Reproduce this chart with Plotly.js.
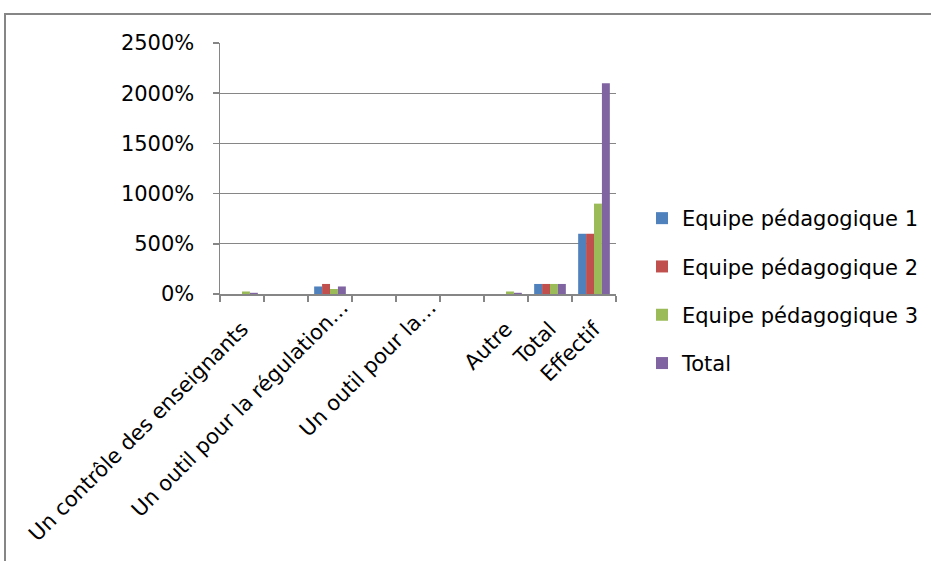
<!DOCTYPE html>
<html>
<head>
<meta charset="utf-8">
<script src="https://cdn.plot.ly/plotly-3.0.1.min.js"></script>
<style>html,body{margin:0;padding:0;background:#fff;}#chart{width:931px;height:561px;}</style>
</head>
<body>
<div id="chart"></div>
<script>
// Category labels (blank entries are unlabeled categories in the original chart)
var categories = ["Un contrôle des enseignants", "", "Un outil pour la régulation…", "", "Un outil pour la…", "", "Autre", "Total", "Effectif"];
var positions = [1, 2, 3, 4, 5, 6, 7, 8, 9];
// labels that the original draws truncated (with "…") sit slightly offset
var truncated = [false, false, true, false, true, false, false, false, false];

// Series values in percent
var seriesNames = ["Equipe pédagogique 1", "Equipe pédagogique 2", "Equipe pédagogique 3", "Total"];
var equipe1 = [0, 0, 75, 0, 0, 0, 0, 100, 600];
var equipe2 = [0, 0, 100, 0, 0, 0, 0, 100, 600];
var equipe3 = [25, 0, 50, 0, 0, 0, 25, 100, 900];
var total   = [12, 0, 75, 0, 0, 0, 12, 100, 2100];

var yTicks = [0, 500, 1000, 1500, 2000, 2500];
var yTickLabels = ["0%", "500%", "1000%", "1500%", "2000%", "2500%"];

var colors = ["#4F81BD", "#C0504D", "#9BBB59", "#8064A2"];
var values = [equipe1, equipe2, equipe3, total];

var FONT = "DejaVu Sans, sans-serif";
var FS = 21;
var GRAY = "#868686";

var traces = values.map(function (v, i) {
  return {
    type: "bar",
    name: seriesNames[i],
    x: positions,
    y: v,
    legendgroup: "g" + i,
    marker: {color: colors[i], line: {width: 0}},
    hoverinfo: "name+y"
  };
});

var L = 220, R = 616, T = 43, B = 294, W = 931, H = 561;
var pw = R - L, ph = B - T;
function px2x(p) { return (p - L) / pw; }
function px2y(p) { return (B - p) / ph; }
var catPx = pw / positions.length;

var mainText = categories.map(function (c, i) { return truncated[i] ? "" : c; });
var shiftVals = [], shiftText = [];
categories.forEach(function (c, i) {
  if (truncated[i]) { shiftVals.push(positions[i] + 12 / catPx); shiftText.push(c); }
});

var layout = {
  width: W, height: H,
  margin: {l: L, r: W - R, t: T, b: H - B, pad: 0, autoexpand: false},
  paper_bgcolor: "#fff",
  plot_bgcolor: "#fff",
  barmode: "group",
  bargap: 0.28,
  bargroupgap: 0,
  font: {family: FONT, size: FS, color: "#000"},
  showlegend: true,
  legend: {
    xref: "container", yref: "container",
    x: 642 / W, xanchor: "left",
    y: 1 - 291 / H, yanchor: "middle",
    font: {family: FONT, size: FS, color: "#000"},
    tracegroupgap: 18,
    bgcolor: "rgba(0,0,0,0)",
    borderwidth: 0
  },
  xaxis: {
    range: [0.5, 9.5],
    tickmode: "array",
    tickvals: positions,
    ticktext: mainText,
    tickangle: -45,
    ticks: "",
    ticklabelstandoff: 13,
    showgrid: false,
    zeroline: false,
    showline: true,
    linecolor: GRAY,
    linewidth: 1.5,
    tickfont: {family: FONT, size: FS, color: "#000"},
    minor: {tick0: 0.5, dtick: 1, ticks: "outside", ticklen: 6, tickcolor: GRAY, tickwidth: 1.5, showgrid: false},
    fixedrange: true
  },
  xaxis2: {
    overlaying: "x",
    anchor: "free",
    position: px2y(290),
    side: "bottom",
    range: [0.5, 9.5],
    tickmode: "array",
    tickvals: shiftVals,
    ticktext: shiftText,
    tickangle: -45,
    ticks: "",
    ticklabelstandoff: 0,
    showgrid: false,
    zeroline: false,
    showline: false,
    tickfont: {family: FONT, size: FS, color: "#000"},
    fixedrange: true
  },
  yaxis: {
    range: [0, 2500],
    tickmode: "array",
    tickvals: yTicks,
    ticktext: yTickLabels,
    ticks: "outside",
    ticklen: 6,
    tickcolor: GRAY,
    tickwidth: 1.5,
    ticklabelstandoff: 14,
    showgrid: true,
    gridcolor: GRAY,
    gridwidth: 1,
    zeroline: false,
    showline: true,
    linecolor: GRAY,
    linewidth: 1.5,
    tickfont: {family: FONT, size: FS, color: "#000"},
    fixedrange: true
  },
  shapes: [{
    type: "rect", xref: "paper", yref: "paper",
    x0: px2x(5), x1: px2x(945), y0: px2y(14), y1: px2y(580),
    line: {color: GRAY, width: 2}, fillcolor: "rgba(0,0,0,0)", layer: "below"
  }]
};

// invisible trace to activate the overlaying label axis
traces.push({type: "scatter", x: [], y: [], xaxis: "x2", yaxis: "y", showlegend: false, hoverinfo: "skip"});

Plotly.newPlot("chart", traces, layout, {displayModeBar: false, staticPlot: true});
</script>
</body>
</html>
